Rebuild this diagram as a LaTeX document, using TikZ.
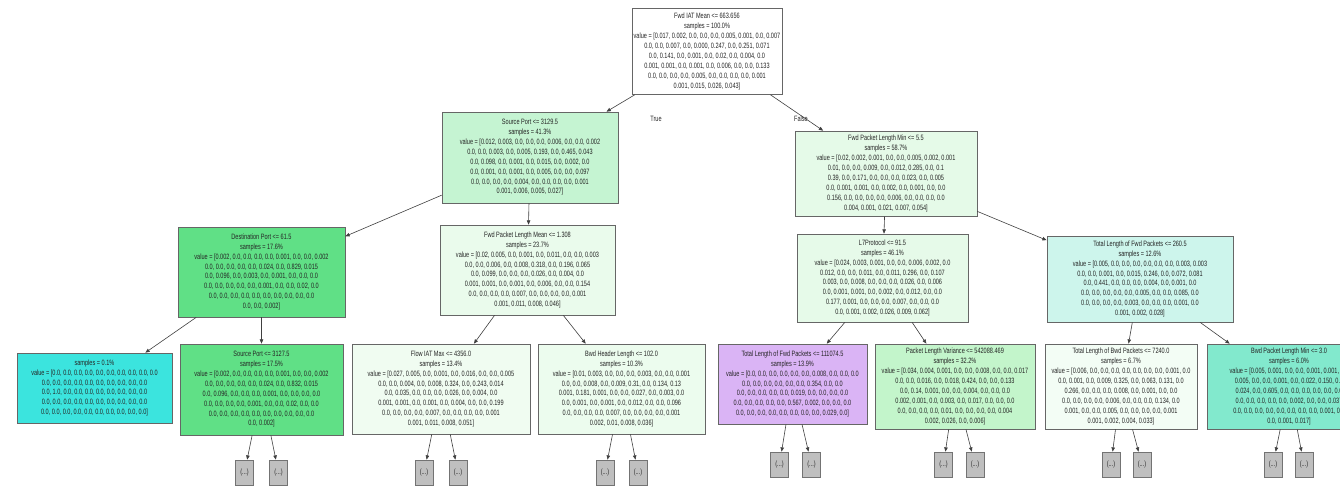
\documentclass[tikz,border=0pt]{standalone}
\usepackage{fontspec}
\newfontfamily\gvfont[FakeStretch=0.72]{Liberation Sans}
\usetikzlibrary{arrows.meta}

\tikzset{
  gv/.style={draw=black!60, line width=0.5pt, rectangle, align=center, inner sep=0pt,
    font=\gvfont\fontsize{5.8}{7.4}\selectfont, text=black!85},
  wh/.style 2 args={minimum width=#1*0.75pt, minimum height=#2*0.75pt},
  more/.style={gv, fill=black!25, draw=black!55, wh={18}{25}},
  gvedge/.style={draw=black!75, line width=0.45pt, -{Triangle[length=3.2pt,width=2.6pt]}},
  lbl/.style={font=\gvfont\fontsize{5.8}{7.4}\selectfont, text=black!85, inner sep=0pt}
}

\begin{document}
\begin{tikzpicture}[x=0.75pt, y=-0.75pt]
\useasboundingbox (0,0) rectangle (1340,486);
\clip (0,0) rectangle (1340,486);
\fill[white] (0,0) rectangle (1340,486);

% Корень
\node[gv, fill=white, wh={150}{86}] (R) at (707,51.5) {Fwd IAT Mean <= 663.656\\samples = 100.0\%\\value = [0.017, 0.002, 0.0, 0.0, 0.0, 0.005, 0.001, 0.0, 0.007\\0.0, 0.0, 0.007, 0.0, 0.000, 0.247, 0.0, 0.251, 0.071\\0.0, 0.141, 0.0, 0.001, 0.0, 0.02, 0.0, 0.004, 0.0\\0.001, 0.001, 0.0, 0.001, 0.0, 0.006, 0.0, 0.0, 0.133\\0.0, 0.0, 0.0, 0.0, 0.005, 0.0, 0.0, 0.0, 0.0, 0.001\\0.001, 0.015, 0.026, 0.043]};

% Первый уровень
\node[gv, fill={rgb,255:red,197;green,244;blue,210}, wh={176}{91}] (A) at (530,157.5) {Source Port <= 3129.5\\samples = 41.3\%\\value = [0.012, 0.003, 0.0, 0.0, 0.0, 0.006, 0.0, 0.0, 0.002\\0.0, 0.0, 0.003, 0.0, 0.005, 0.193, 0.0, 0.465, 0.043\\0.0, 0.098, 0.0, 0.001, 0.0, 0.015, 0.0, 0.002, 0.0\\0.0, 0.001, 0.0, 0.001, 0.0, 0.005, 0.0, 0.0, 0.097\\0.0, 0.0, 0.0, 0.0, 0.004, 0.0, 0.0, 0.0, 0.0, 0.001\\0.001, 0.006, 0.005, 0.027]};
\node[gv, fill={rgb,255:red,229;green,250;blue,232}, wh={182}{85}] (B) at (886,173.5) {Fwd Packet Length Min <= 5.5\\samples = 58.7\%\\value = [0.02, 0.002, 0.001, 0.0, 0.0, 0.005, 0.002, 0.001\\0.01, 0.0, 0.0, 0.009, 0.0, 0.012, 0.285, 0.0, 0.1\\0.39, 0.0, 0.171, 0.0, 0.0, 0.0, 0.023, 0.0, 0.005\\0.0, 0.001, 0.001, 0.0, 0.002, 0.0, 0.001, 0.0, 0.0\\0.156, 0.0, 0.0, 0.0, 0.0, 0.006, 0.0, 0.0, 0.0, 0.0\\0.004, 0.001, 0.021, 0.007, 0.054]};

% Второй уровень
\node[gv, fill={rgb,255:red,96;green,224;blue,134}, wh={167}{90}] (AA) at (261.5,272) {Destination Port <= 61.5\\samples = 17.6\%\\value = [0.002, 0.0, 0.0, 0.0, 0.0, 0.001, 0.0, 0.0, 0.002\\0.0, 0.0, 0.0, 0.0, 0.0, 0.024, 0.0, 0.829, 0.015\\0.0, 0.096, 0.0, 0.003, 0.0, 0.001, 0.0, 0.0, 0.0\\0.0, 0.0, 0.0, 0.0, 0.0, 0.001, 0.0, 0.0, 0.02, 0.0\\0.0, 0.0, 0.0, 0.0, 0.0, 0.0, 0.0, 0.0, 0.0, 0.0\\0.0, 0.0, 0.002]};
\node[gv, fill={rgb,255:red,234;green,251;blue,236}, wh={175}{90}] (AB) at (527.5,270) {Fwd Packet Length Mean <= 1.308\\samples = 23.7\%\\value = [0.02, 0.005, 0.0, 0.001, 0.0, 0.011, 0.0, 0.0, 0.003\\0.0, 0.0, 0.006, 0.0, 0.008, 0.318, 0.0, 0.196, 0.065\\0.0, 0.099, 0.0, 0.0, 0.0, 0.026, 0.0, 0.004, 0.0\\0.001, 0.001, 0.0, 0.001, 0.0, 0.006, 0.0, 0.0, 0.154\\0.0, 0.0, 0.0, 0.0, 0.007, 0.0, 0.0, 0.0, 0.0, 0.001\\0.001, 0.011, 0.008, 0.046]};
\node[gv, fill={rgb,255:red,230;green,250;blue,233}, wh={171}{88}] (BA) at (882.5,278) {L7Protocol <= 91.5\\samples = 46.1\%\\value = [0.024, 0.003, 0.001, 0.0, 0.0, 0.006, 0.002, 0.0\\0.012, 0.0, 0.0, 0.011, 0.0, 0.011, 0.296, 0.0, 0.107\\0.003, 0.0, 0.008, 0.0, 0.0, 0.0, 0.026, 0.0, 0.006\\0.0, 0.001, 0.001, 0.0, 0.002, 0.0, 0.012, 0.0, 0.0\\0.177, 0.001, 0.0, 0.0, 0.0, 0.007, 0.0, 0.0, 0.0\\0.0, 0.001, 0.002, 0.026, 0.009, 0.062]};
\node[gv, fill={rgb,255:red,205;green,245;blue,236}, wh={186}{86}] (BB) at (1140,279) {Total Length of Fwd Packets <= 260.5\\samples = 12.6\%\\value = [0.005, 0.0, 0.0, 0.0, 0.0, 0.0, 0.0, 0.003, 0.003\\0.0, 0.0, 0.001, 0.0, 0.015, 0.246, 0.0, 0.072, 0.081\\0.0, 0.441, 0.0, 0.0, 0.0, 0.004, 0.0, 0.001, 0.0\\0.0, 0.0, 0.0, 0.0, 0.0, 0.005, 0.0, 0.0, 0.085, 0.0\\0.0, 0.0, 0.0, 0.0, 0.003, 0.0, 0.0, 0.0, 0.001, 0.0\\0.001, 0.002, 0.028]};

% Третий уровень
\node[gv, fill={rgb,255:red,59;green,228;blue,222}, wh={155}{70}] (L) at (94.5,388) {samples = 0.1\%\\value = [0.0, 0.0, 0.0, 0.0, 0.0, 0.0, 0.0, 0.0, 0.0, 0.0\\0.0, 0.0, 0.0, 0.0, 0.0, 0.0, 0.0, 0.0, 0.0, 0.0\\0.0, 1.0, 0.0, 0.0, 0.0, 0.0, 0.0, 0.0, 0.0, 0.0\\0.0, 0.0, 0.0, 0.0, 0.0, 0.0, 0.0, 0.0, 0.0, 0.0\\0.0, 0.0, 0.0, 0.0, 0.0, 0.0, 0.0, 0.0, 0.0, 0.0]};
\node[gv, fill={rgb,255:red,96;green,224;blue,134}, wh={163}{91}] (C1) at (261.5,389.5) {Source Port <= 3127.5\\samples = 17.5\%\\value = [0.002, 0.0, 0.0, 0.0, 0.0, 0.001, 0.0, 0.0, 0.002\\0.0, 0.0, 0.0, 0.0, 0.0, 0.024, 0.0, 0.832, 0.015\\0.0, 0.096, 0.0, 0.0, 0.0, 0.001, 0.0, 0.0, 0.0, 0.0\\0.0, 0.0, 0.0, 0.0, 0.001, 0.0, 0.0, 0.02, 0.0, 0.0\\0.0, 0.0, 0.0, 0.0, 0.0, 0.0, 0.0, 0.0, 0.0, 0.0\\0.0, 0.002]};
\node[gv, fill={rgb,255:red,240;green,252;blue,241}, wh={178}{90}] (C2) at (441,389) {Flow IAT Max <= 4356.0\\samples = 13.4\%\\value = [0.027, 0.005, 0.0, 0.001, 0.0, 0.016, 0.0, 0.0, 0.005\\0.0, 0.0, 0.004, 0.0, 0.008, 0.324, 0.0, 0.243, 0.014\\0.0, 0.035, 0.0, 0.0, 0.0, 0.026, 0.0, 0.004, 0.0\\0.001, 0.001, 0.0, 0.001, 0.0, 0.004, 0.0, 0.0, 0.199\\0.0, 0.0, 0.0, 0.0, 0.007, 0.0, 0.0, 0.0, 0.0, 0.001\\0.001, 0.011, 0.008, 0.051]};
\node[gv, fill={rgb,255:red,236;green,252;blue,238}, wh={167}{90}] (C3) at (621.5,389) {Bwd Header Length <= 102.0\\samples = 10.3\%\\value = [0.01, 0.003, 0.0, 0.0, 0.0, 0.003, 0.0, 0.0, 0.001\\0.0, 0.0, 0.008, 0.0, 0.009, 0.31, 0.0, 0.134, 0.13\\0.001, 0.181, 0.001, 0.0, 0.0, 0.027, 0.0, 0.003, 0.0\\0.0, 0.001, 0.0, 0.001, 0.0, 0.012, 0.0, 0.0, 0.096\\0.0, 0.0, 0.0, 0.0, 0.007, 0.0, 0.0, 0.0, 0.0, 0.001\\0.002, 0.01, 0.008, 0.036]};
\node[gv, fill={rgb,255:red,218;green,180;blue,245}, wh={149}{80}] (C4) at (792.5,384) {Total Length of Fwd Packets <= 111074.5\\samples = 13.9\%\\value = [0.0, 0.0, 0.0, 0.0, 0.0, 0.0, 0.008, 0.0, 0.0, 0.0\\0.0, 0.0, 0.0, 0.0, 0.0, 0.0, 0.354, 0.0, 0.0\\0.0, 0.0, 0.0, 0.0, 0.0, 0.019, 0.0, 0.0, 0.0, 0.0\\0.0, 0.0, 0.0, 0.0, 0.0, 0.567, 0.002, 0.0, 0.0, 0.0\\0.0, 0.0, 0.0, 0.0, 0.0, 0.0, 0.0, 0.0, 0.029, 0.0]};
\node[gv, fill={rgb,255:red,195;green,245;blue,203}, wh={160}{85}] (C5) at (955,386.5) {Packet Length Variance <= 542088.469\\samples = 32.2\%\\value = [0.034, 0.004, 0.001, 0.0, 0.0, 0.008, 0.0, 0.0, 0.017\\0.0, 0.0, 0.016, 0.0, 0.018, 0.424, 0.0, 0.0, 0.133\\0.0, 0.14, 0.001, 0.0, 0.0, 0.004, 0.0, 0.0, 0.0\\0.002, 0.001, 0.0, 0.003, 0.0, 0.017, 0.0, 0.0, 0.0\\0.0, 0.0, 0.0, 0.0, 0.01, 0.0, 0.0, 0.0, 0.0, 0.004\\0.002, 0.026, 0.0, 0.006]};
\node[gv, fill={rgb,255:red,243;green,253;blue,245}, wh={152}{85}] (C6) at (1121,386.5) {Total Length of Bwd Packets <= 7240.0\\samples = 6.7\%\\value = [0.006, 0.0, 0.0, 0.0, 0.0, 0.0, 0.0, 0.0, 0.001, 0.0\\0.0, 0.001, 0.0, 0.009, 0.325, 0.0, 0.063, 0.131, 0.0\\0.266, 0.0, 0.0, 0.0, 0.008, 0.0, 0.001, 0.0, 0.0\\0.0, 0.0, 0.0, 0.0, 0.006, 0.0, 0.0, 0.0, 0.134, 0.0\\0.001, 0.0, 0.0, 0.005, 0.0, 0.0, 0.0, 0.0, 0.001\\0.001, 0.002, 0.004, 0.033]};
\node[gv, fill={rgb,255:red,130;green,233;blue,205}, wh={164}{85}] (C7) at (1289,386.5) {Bwd Packet Length Min <= 3.0\\samples = 6.0\%\\value = [0.005, 0.001, 0.0, 0.0, 0.001, 0.001, 0.0\\0.005, 0.0, 0.0, 0.001, 0.0, 0.022, 0.150, 0.0\\0.024, 0.0, 0.605, 0.0, 0.0, 0.0, 0.0, 0.0, 0.0\\0.0, 0.0, 0.0, 0.0, 0.0, 0.002, 0.0, 0.0, 0.037\\0.0, 0.0, 0.0, 0.0, 0.0, 0.0, 0.0, 0.0, 0.001, 0.0\\0.0, 0.001, 0.017]};

% Свёрнутые ветви
\node[more] (D1a) at (244.5,472.5) {(...)};
\node[more] (D1b) at (278.5,472.5) {(...)};
\node[more] (D2a) at (424,472.5) {(...)};
\node[more] (D2b) at (458,472.5) {(...)};
\node[more] (D3a) at (605,472.5) {(...)};
\node[more] (D3b) at (638,472.5) {(...)};
\node[more] (D4a) at (779.5,464.5) {(...)};
\node[more] (D4b) at (811.5,464.5) {(...)};
\node[more] (D5a) at (943.5,464.5) {(...)};
\node[more] (D5b) at (975,464.5) {(...)};
\node[more] (D6a) at (1111,464.5) {(...)};
\node[more] (D6b) at (1142,464.5) {(...)};
\node[more] (D7a) at (1273,464.5) {(...)};
\node[more] (D7b) at (1304,464.5) {(...)};

% Рёбра
\draw[gvedge] (R) -- (A);
\draw[gvedge] (R) -- (B);
\node[lbl] (T) at (656,119) {True};
\node[lbl] (F) at (801,119) {False};
\draw[gvedge] (A) -- (AA);
\draw[gvedge] (A) -- (AB);
\draw[gvedge] (B) -- (BA);
\draw[gvedge] (B) -- (BB);
\draw[gvedge] (AA) -- (L);
\draw[gvedge] (AA) -- (C1);
\draw[gvedge] (AB) -- (C2);
\draw[gvedge] (AB) -- (C3);
\draw[gvedge] (BA) -- (C4);
\draw[gvedge] (BA) -- (C5);
\draw[gvedge] (BB) -- (C6);
\draw[gvedge] (BB) -- (C7);
\foreach \n in {1,...,7}{
  \draw[gvedge] (C\n) -- (D\n a);
  \draw[gvedge] (C\n) -- (D\n b);
}
\end{tikzpicture}
\end{document}
